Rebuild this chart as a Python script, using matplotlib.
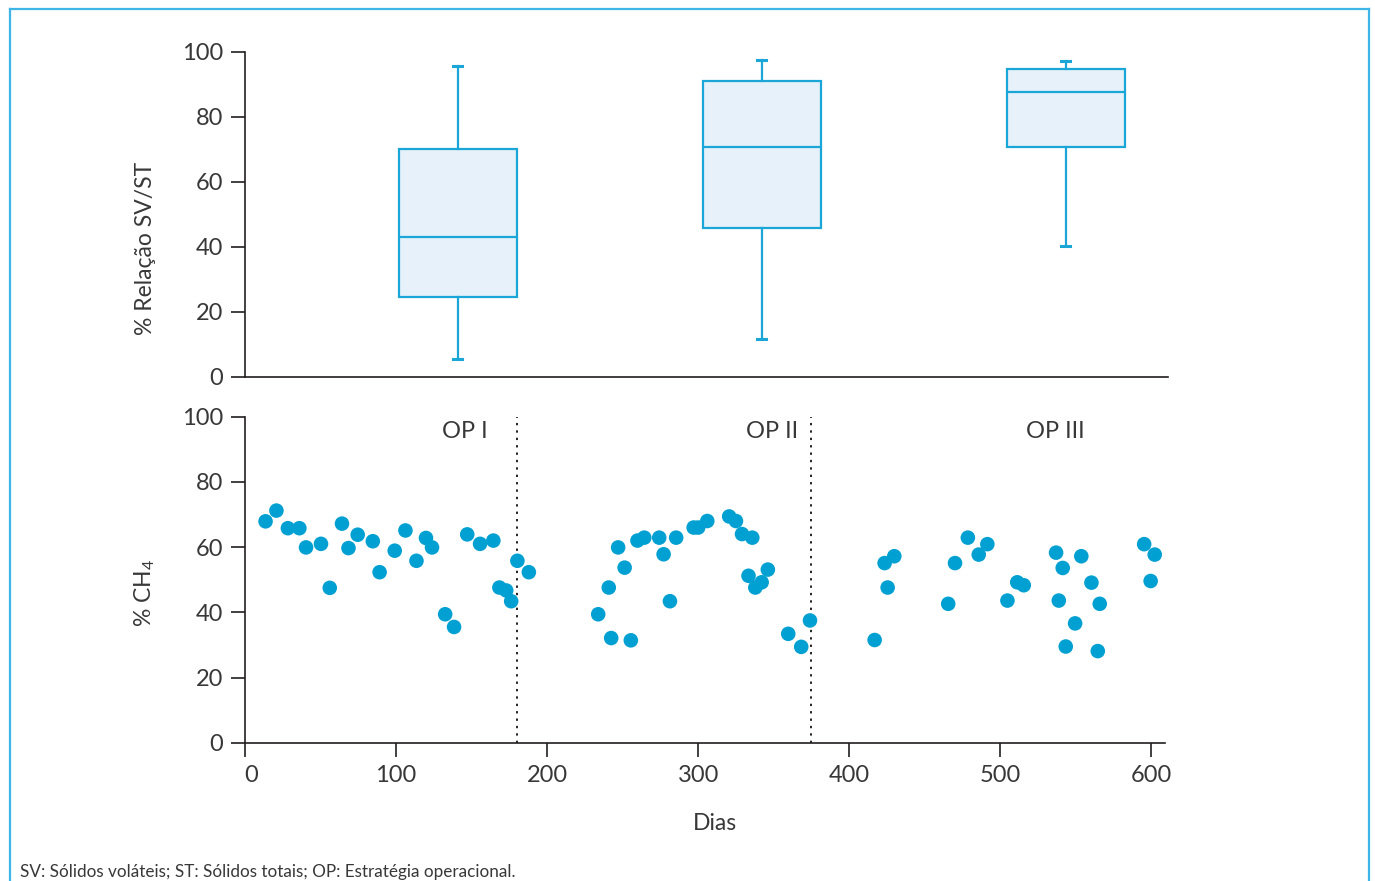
import matplotlib
matplotlib.use("Agg")
import matplotlib.pyplot as plt
from matplotlib.lines import Line2D
import matplotlib.transforms as mtransforms

plt.rcParams['font.family'] = ['Lato', 'DejaVu Sans']
plt.rcParams['mathtext.fontset'] = 'custom'
plt.rcParams['mathtext.rm'] = 'Lato'
plt.rcParams['mathtext.it'] = 'Lato:italic'
plt.rcParams['mathtext.bf'] = 'Lato:bold'

# ---- Data ----
# Box plot statistics (% SV/ST) for OP I, OP II, OP III
box_labels = ["OP I", "OP II", "OP III"]
box_whislo = [5.5, 11.7, 40.2]
box_q1 = [24.5, 45.7, 70.6]
box_med = [42.9, 70.6, 87.7]
box_q3 = [70.2, 91.1, 94.8]
box_whishi = [95.7, 97.5, 97.2]

# Methane content (% CH4) over days
days = [13.6, 20.8, 28.4, 36.0, 40.4, 50.3, 56.1, 64.2, 68.5, 74.6, 84.6, 89.1,
        99.1, 106.2, 113.5, 119.8, 123.8, 132.5, 138.4, 147.1, 155.6, 164.4,
        168.4, 172.9, 176.2, 180.3, 187.9,
        233.8, 240.8, 242.4, 247.0, 251.3, 255.4, 259.8, 264.3, 274.2, 277.1,
        281.3, 285.4, 297.0, 300.0, 306.0, 320.5, 325.0, 329.0, 335.8, 333.3,
        337.8, 342.0, 346.1, 359.6, 368.2, 374.0,
        416.8, 423.4, 429.8, 425.4, 465.5, 470.0, 478.5, 485.7, 491.4, 504.7,
        511.2, 515.5, 536.9, 541.3, 538.7, 543.3, 549.5, 553.6, 560.3, 565.8,
        564.5, 595.2, 602.2, 599.5]
ch4 = [67.9, 71.2, 65.8, 65.8, 59.9, 61.0, 47.5, 67.2, 59.7, 63.8, 61.8, 52.3,
       58.9, 65.1, 55.8, 62.8, 59.9, 39.4, 35.5, 63.9, 61.0, 62.0,
       47.6, 46.7, 43.4, 55.8, 52.3,
       39.4, 47.6, 32.1, 59.9, 53.7, 31.4, 62.0, 62.9, 62.9, 57.8,
       43.4, 62.9, 66.0, 66.0, 68.0, 69.4, 68.0, 64.0, 62.9, 51.2,
       47.6, 49.2, 53.1, 33.4, 29.4, 37.5,
       31.5, 55.1, 57.2, 47.6, 42.6, 55.1, 62.9, 57.7, 60.9, 43.6,
       49.2, 48.3, 58.3, 53.6, 43.6, 29.5, 36.6, 57.2, 49.1, 42.6,
       28.1, 60.9, 57.7, 49.6]
phase_limits = [180.1, 374.8]
phase_label_x = [145.7, 349.0, 536.4]
x_ticks = [0, 100, 200, 300, 400, 500, 600]
y_ticks = [0, 20, 40, 60, 80, 100]

W, H = 1375, 881
fig = plt.figure(figsize=(W / 100, H / 100), dpi=100)

text_color = '#383838'
spine_color = '#231f20'
blue = '#00a0d2'
box_edge = '#1ba6d8'
box_fill = '#e6f1fa'

def fx(px):
    return px / W

def fy(py):
    return 1 - py / H

# Outer frame (left, top, right)
frame_color = '#3db5e6'
for xs, ys in [([fx(10), fx(10)], [0, fy(9)]),
               ([fx(10), fx(1369)], [fy(9), fy(9)]),
               ([fx(1369), fx(1369)], [0, fy(9)])]:
    fig.add_artist(Line2D(xs, ys, color=frame_color, lw=1.6, transform=fig.transFigure))

def style_axes(ax):
    for s in ['top', 'right']:
        ax.spines[s].set_visible(False)
    for s in ['left', 'bottom']:
        ax.spines[s].set_color(spine_color)
        ax.spines[s].set_linewidth(1.2)
    ax.tick_params(axis='both', length=10, width=1.2, color=spine_color,
                   labelsize=17, labelcolor=text_color, pad=6)

# ---- Top: box plots ----
ax1 = fig.add_axes([fx(245), fy(376.7), fx(1168) - fx(245), fy(51.7) - fy(376.7)])
stats = []
for i in range(3):
    stats.append(dict(label=box_labels[i], whislo=box_whislo[i], q1=box_q1[i],
                      med=box_med[i], q3=box_q3[i], whishi=box_whishi[i], fliers=[]))
ax1.bxp(stats, positions=[1, 2, 3], widths=0.388, capwidths=0.03, patch_artist=True,
        showfliers=False,
        boxprops=dict(facecolor=box_fill, edgecolor=box_edge, linewidth=1.6),
        medianprops=dict(color=box_edge, linewidth=1.6),
        whiskerprops=dict(color=box_edge, linewidth=1.6),
        capprops=dict(color=box_edge, linewidth=2.2))
ax1.set_xlim(0.30, 3.336)
ax1.set_ylim(0, 100)
ax1.set_yticks(y_ticks)
ax1.set_xticks([])
style_axes(ax1)
ax1.tick_params(axis='x', length=0)

# ---- Bottom: CH4 scatter ----
ax2 = fig.add_axes([fx(245), fy(742.7), fx(1165) - fx(245), fy(416.7) - fy(742.7)])
ax2.scatter(days, ch4, s=110, color=blue, edgecolors='none', zorder=3, clip_on=False)
for xl in phase_limits:
    ax2.axvline(xl, color='#222222', lw=1.4, linestyle=(0, (1.2, 2.6)), zorder=2)
for lab, xp in zip(box_labels, phase_label_x):
    ax2.text(xp, 95.5, lab, ha='center', va='center', fontsize=17, color=text_color)
ax2.set_xlim(0, 609)
ax2.set_ylim(0, 100)
ax2.set_xticks(x_ticks)
ax2.set_yticks(y_ticks)
style_axes(ax2)
# first x label sits slightly right of its tick in the reference
fig.canvas.draw()
lbl0 = ax2.get_xticklabels()[0]
lbl0.set_transform(lbl0.get_transform() + mtransforms.ScaledTranslation(6 / 100, 0, fig.dpi_scale_trans))

# Axis labels
fig.text(fx(145), fy(248), '% Relação SV/ST', rotation=90, ha='center', va='center',
         fontsize=16.5, color=text_color)
fig.text(fx(145), fy(593), '% CH$_4$', rotation=90, ha='center', va='center',
         fontsize=16.5, color=text_color)
fig.text(fx(715), fy(823), 'Dias', ha='center', va='center',
         fontsize=16.5, color=text_color)
fig.text(fx(20), fy(872), 'SV: Sólidos voláteis; ST: Sólidos totais; OP: Estratégia operacional.',
         ha='left', va='center', fontsize=12.3, color=text_color)

fig.savefig('out.png', dpi=100)
